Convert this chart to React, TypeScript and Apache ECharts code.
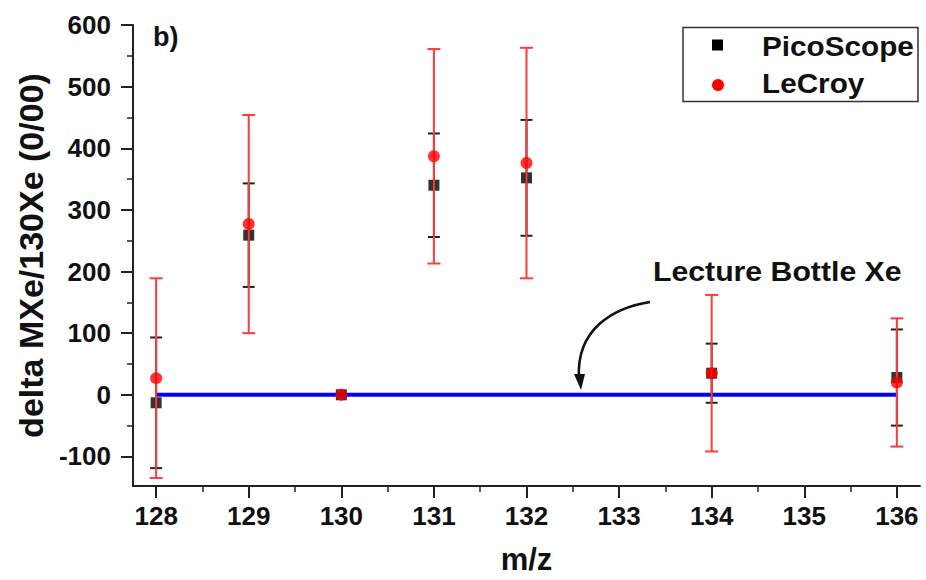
import React, { useEffect, useRef } from "react";
import * as echarts from "echarts";

const massNumbers = [128, 129, 130, 131, 132, 134, 136];
const picoValues = [-13, 259, 0, 340, 352, 35, 28];
const picoErrors = [106, 84, 0, 84, 94, 48, 78];
const lecroyValues = [27, 277, 0, 387, 376, 35, 20];
const lecroyErrors = [162, 177, 0, 174, 187, 127, 104];
const referenceLine = [[128, 0], [136, 0]];

const xMajorTicks = [128, 129, 130, 131, 132, 133, 134, 135, 136];
const xMinorTicks = [127.5, 128.5, 129.5, 130.5, 131.5, 132.5, 133.5, 134.5, 135.5, 136.5];
const yMajorTicks = [-100, 0, 100, 200, 300, 400, 500, 600];
const yMinorTicks = [-150, -50, 50, 150, 250, 350, 450, 550];

const FONT = "'Liberation Sans', Arial, sans-serif";

function errorRenderer(color: string, capHalf: number, width: number) {
  return (params: any, api: any) => {
    const x = api.value(0);
    const lo = api.value(1);
    const hi = api.value(2);
    if (hi === lo) return null;
    const pHi = api.coord([x, hi]);
    const pLo = api.coord([x, lo]);
    const style = { stroke: color, lineWidth: width };
    return {
      type: "group",
      children: [
        { type: "line", shape: { x1: pHi[0], y1: pHi[1], x2: pLo[0], y2: pLo[1] }, style },
        { type: "line", shape: { x1: pHi[0] - capHalf, y1: pHi[1], x2: pHi[0] + capHalf, y2: pHi[1] }, style },
        { type: "line", shape: { x1: pLo[0] - capHalf, y1: pLo[1], x2: pLo[0] + capHalf, y2: pLo[1] }, style },
      ],
    };
  };
}

export default function App() {
  const ref = useRef<HTMLDivElement>(null);
  useEffect(() => {
    document.body.style.margin = "0";
    const chart = echarts.init(ref.current!, null, { renderer: "svg" });
    const xMin = 127.75;
    const xMax = 136.25;
    const yMin = -148;
    const yMax = 600;
    const axisLineStyle = { color: "#222", width: 2 };
    const option: any = {
      animation: false,
      backgroundColor: "#fff",
      grid: { left: 133, right: 6, top: 25, bottom: 94, containLabel: false, outerBoundsMode: "none" },
      xAxis: [
        {
          type: "value",
          min: xMin,
          max: xMax,
          position: "bottom",
          axisLine: { show: true, onZero: false, lineStyle: axisLineStyle },
          axisTick: { show: true, customValues: xMajorTicks, length: 12, lineStyle: { color: "#222", width: 2 } },
          axisLabel: {
            customValues: xMajorTicks,
            fontSize: 26,
            fontWeight: "bold",
            fontFamily: FONT,
            color: "#111",
            margin: 17,
          },
          splitLine: { show: false },
          name: "m/z",
          nameLocation: "middle",
          nameGap: 57,
          nameTextStyle: { fontSize: 31, fontWeight: "bold", fontFamily: FONT, color: "#111", lineHeight: 33 },
        },
        {
          type: "value",
          min: xMin,
          max: xMax,
          position: "bottom",
          axisLine: { show: false, onZero: false },
          axisTick: { show: true, customValues: xMinorTicks, length: 6, lineStyle: { color: "#222", width: 1.5 } },
          axisLabel: { show: false },
          splitLine: { show: false },
        },
      ],
      yAxis: [
        {
          type: "value",
          min: yMin,
          max: yMax,
          position: "left",
          axisLine: { show: true, onZero: false, lineStyle: axisLineStyle },
          axisTick: { show: true, customValues: yMajorTicks, length: 12, lineStyle: { color: "#222", width: 2 } },
          axisLabel: {
            customValues: yMajorTicks,
            fontSize: 26,
            fontWeight: "bold",
            fontFamily: FONT,
            color: "#111",
            margin: 22,
          },
          splitLine: { show: false },
          name: "delta MXe/130Xe (0/00)",
          nameLocation: "middle",
          nameGap: 80,
          nameTextStyle: { fontSize: 34, fontWeight: "bold", fontFamily: FONT, color: "#111" },
        },
        {
          type: "value",
          min: yMin,
          max: yMax,
          position: "left",
          offset: 0,
          axisLine: { show: false, onZero: false },
          axisTick: { show: true, customValues: yMinorTicks, length: 6, lineStyle: { color: "#222", width: 1.5 } },
          axisLabel: { show: false },
          splitLine: { show: false },
        },
      ],
      series: [
        {
          name: "Lecture Bottle Xe",
          type: "line",
          data: referenceLine,
          symbol: "none",
          lineStyle: { color: "#0000ff", width: 4 },
          z: 1,
          silent: true,
        },
        {
          name: "PicoScope error",
          type: "custom",
          renderItem: errorRenderer("#222", 6, 2),
          data: massNumbers.map((m, i) => [m, picoValues[i] - picoErrors[i], picoValues[i] + picoErrors[i]]),
          encode: { x: 0, y: [1, 2] },
          z: 2,
        },
        {
          name: "PicoScope",
          type: "scatter",
          data: massNumbers.map((m, i) => [m, picoValues[i]]),
          symbol: "rect",
          symbolSize: 11,
          itemStyle: { color: "#000" },
          z: 3,
        },
        {
          name: "LeCroy error",
          type: "custom",
          renderItem: errorRenderer("#ff3b3b", 6.5, 2),
          data: massNumbers.map((m, i) => [m, lecroyValues[i] - lecroyErrors[i], lecroyValues[i] + lecroyErrors[i]]),
          encode: { x: 0, y: [1, 2] },
          z: 4,
        },
        {
          name: "LeCroy",
          type: "scatter",
          data: massNumbers.map((m, i) => [m, lecroyValues[i]]),
          symbol: "circle",
          symbolSize: 12,
          itemStyle: { color: "#ff0000" },
          z: 5,
        },
      ],
      graphic: [
        {
          type: "text",
          left: 153,
          top: 23,
          style: { text: "b)", font: `bold 27px ${FONT}`, fill: "#111" },
        },
        {
          type: "rect",
          shape: { x: 683, y: 27.5, width: 235, height: 74 },
          style: { fill: "#fff", stroke: "#333", lineWidth: 1.5 },
          z: 10,
        },
        {
          type: "rect",
          shape: { x: 712, y: 39.5, width: 11, height: 11 },
          style: { fill: "#000" },
          z: 11,
        },
        {
          type: "circle",
          shape: { cx: 718, cy: 85, r: 6 },
          style: { fill: "#ff0000" },
          z: 11,
        },
        {
          type: "text",
          x: 762,
          y: 46,
          scaleX: 1.1,
          style: { text: "PicoScope", font: `bold 27px ${FONT}`, fill: "#111", verticalAlign: "middle", align: "left" },
          z: 11,
        },
        {
          type: "text",
          x: 762,
          y: 83,
          scaleX: 1.1,
          style: { text: "LeCroy", font: `bold 27px ${FONT}`, fill: "#111", verticalAlign: "middle", align: "left" },
          z: 11,
        },
        {
          type: "text",
          x: 653,
          y: 271,
          scaleX: 1.08,
          style: { text: "Lecture Bottle Xe", font: `bold 28px ${FONT}`, fill: "#111", verticalAlign: "middle", align: "left" },
          z: 11,
        },
        {
          type: "bezierCurve",
          shape: { x1: 650, y1: 302, cpx1: 612, cpy1: 308, cpx2: 576, cpy2: 330, x2: 579, y2: 378 },
          style: { stroke: "#111", lineWidth: 2.5, fill: null },
          z: 11,
        },
        {
          type: "polygon",
          shape: { points: [[574, 374], [585, 374], [581, 390]] },
          style: { fill: "#111" },
          z: 11,
        },
      ],
    };
    chart.setOption(option);
    return () => chart.dispose();
  }, []);
  return <div ref={ref} style={{ width: 926, height: 580 }} />;
}
